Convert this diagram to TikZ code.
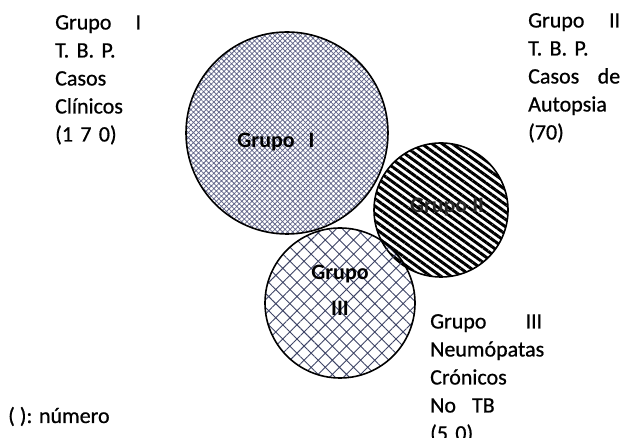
\documentclass[tikz,border=0pt]{standalone}
\usepackage{fontspec}
\setmainfont{Carlito}
\newfontfamily\lblfont{Carlito}[FakeBold=0.7]
\usepackage{tikz}
\usetikzlibrary{patterns.meta, positioning}
\definecolor{hatchblue}{RGB}{96,100,136}
\definecolor{gridblue}{RGB}{62,68,102}
\definecolor{textgrey}{RGB}{40,40,40}

\begin{document}
\begin{tikzpicture}[x=1pt, y=1pt,
    ring/.style={draw=black, line width=1.6pt},
    lbl/.style={anchor=north west, inner sep=0pt, align=left, font=\lblfont\fontsize{22}{28}\selectfont},
    inlbl/.style={inner sep=0pt, font=\fontsize{22}{28}\selectfont\bfseries}]
    \useasboundingbox (0,0) rectangle (623,438);
    % circles
    \draw [ring, pattern={Hatch[angle=45, distance=3.6pt, line width=0.75pt]}, pattern color=hatchblue] (287,305) circle (101);
    \draw [ring, pattern={Lines[angle=-36, distance=6pt, line width=3pt]}, pattern color=black] (441,228) circle (67);
    \draw [ring, pattern={Hatch[angle=45, distance=10pt, line width=0.9pt]}, pattern color=gridblue] (340,135) circle (75);
    % labels inside
    \node [inlbl] (gI) at (276,296) {Grupo\hspace{14pt}I};
    \node [inlbl, text=textgrey] (gII) at (447,231) {Grupo II};
    \node [inlbl, anchor=base] (gIIIa) at (340,158) {Grupo};
    \node [inlbl, anchor=base] (gIIIb) at (340,122) {III};
    % labels outside
    \node [lbl, text width=86] (leyI) at (55,423) {Grupo\hfill I\\ T. B. P.\\ Casos\\ Clínicos\\ (1 7 0)};
    \node [lbl, text width=92] (leyII) at (528,425) {Grupo\hfill II\\ T. B. P.\\ Casos\hfill de\\ Autopsia\\ (70)};
    \node [lbl, text width=112] (leyIII) at (430,124) {Grupo\hfill III\\ Neumópatas\\ Crónicos\\ No\hspace{16pt}TB\\ (5 0)};
    \node [inner sep=0pt, anchor=base west, font=\lblfont\fontsize{22}{28}\selectfont] (nota) at (8,15) {( ): número};
\end{tikzpicture}
\end{document}
